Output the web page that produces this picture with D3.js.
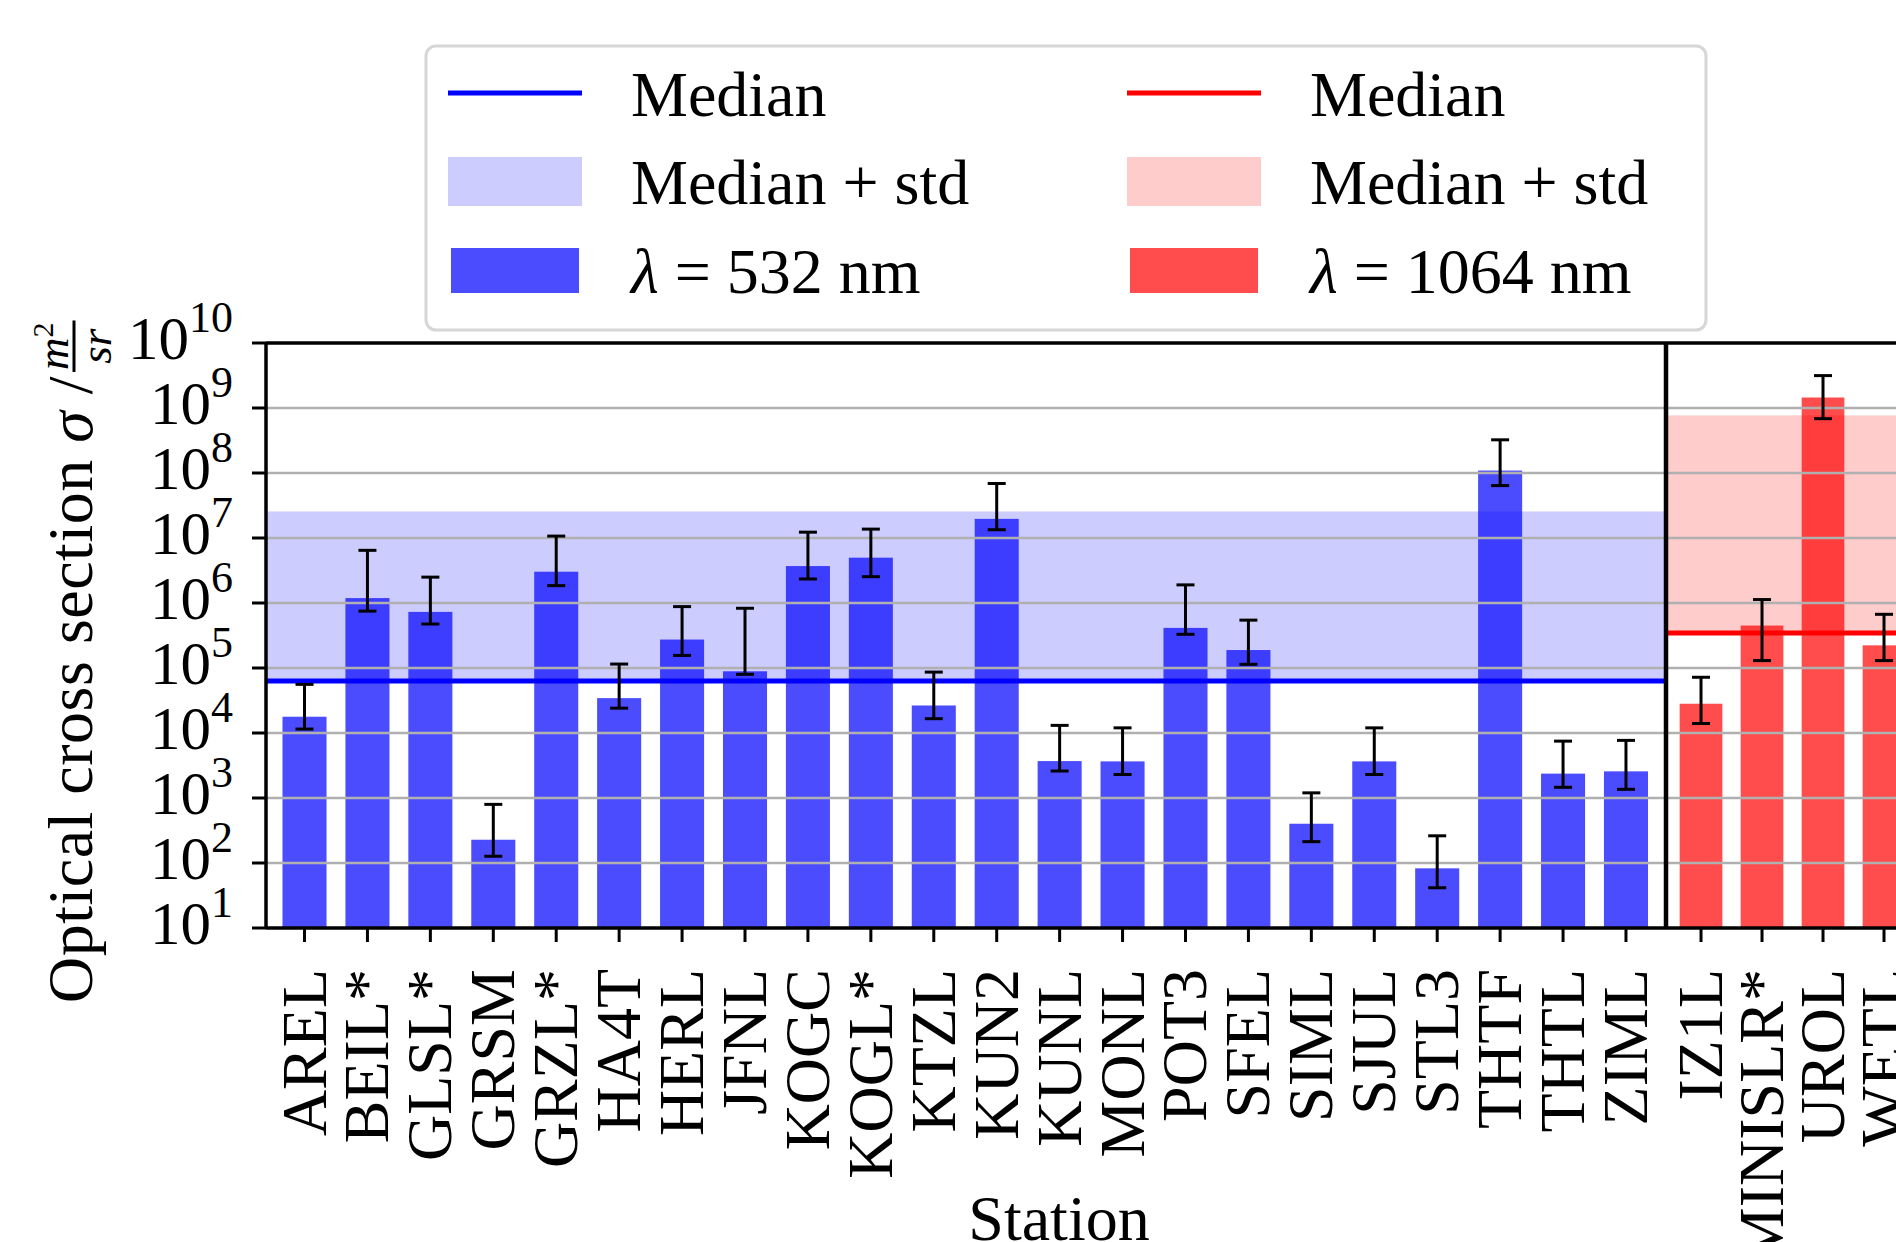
<!DOCTYPE html>
<html>
<head>
<meta charset="utf-8">
<script src="https://cdn.jsdelivr.net/npm/d3@7"></script>
<style>
  body { margin: 0; background: #fff; }
  svg { display: block; font-family: 'Liberation Serif', 'DejaVu Serif', serif; }
</style>
</head>
<body>
<div id="chart"></div>
<script>
// values, optical cross section in m^2/sr
const stations532 = ['AREL', 'BEIL*', 'GLSL*', 'GRSM', 'GRZL*', 'HA4T', 'HERL', 'JFNL', 'KOGC', 'KOGL*', 'KTZL',
  'KUN2', 'KUNL', 'MONL', 'POT3', 'SFEL', 'SIML', 'SJUL', 'STL3', 'THTF', 'THTL', 'ZIML']
const values532 = [1.78e4, 1.19e6, 7.3e5, 228, 3.03e6, 3.44e4, 2.74e5, 8.9e4, 3.7e6, 4.98e6, 2.65e4,
  1.97e7, 3.7e3, 3.66e3, 4.14e5, 1.89e5, 402, 3.66e3, 82.8, 1.09e8, 2.37e3, 2.57e3]
const errLow532 = [1.15e4, 7.5e5, 4.75e5, 127, 1.85e6, 2.41e4, 1.56e5, 8.0e4, 2.34e6, 2.54e6, 1.66e4,
  1.34e7, 2.6e3, 2.3e3, 3.3e5, 1.14e5, 213, 2.3e3, 41.6, 6.4e7, 1.46e3, 1.36e3]
const errHigh532 = [5.6e4, 6.46e6, 2.5e6, 798, 1.07e7, 1.15e5, 8.8e5, 8.3e5, 1.23e7, 1.37e7, 8.65e4,
  6.9e7, 1.31e4, 1.2e4, 1.9e6, 5.45e5, 1.2e3, 1.2e4, 262, 3.24e8, 7.5e3, 7.7e3]

const stations1064 = ['IZ1L', 'MINISLR*', 'UROL', 'WETL']
const values1064 = [2.82e4, 4.5e5, 1.45e9, 2.23e5]
const errLow1064 = [1.4e4, 1.3e5, 6.85e8, 1.3e5]
const errHigh1064 = [7.2e4, 1.13e6, 3.15e9, 6.7e5]

const median532 = 6.3e4
const medianStd532 = 2.56e7
const median1064 = 3.46e5
const medianStd1064 = 7.7e8

const yTickExponents = [1, 2, 3, 4, 5, 6, 7, 8, 9, 10]

const W = 1896
const H = 1242
const plotTop = 343
const plotBottom = 928
const plotLeft = 266
const split = 1666
const fs = 64

const svg = d3.select('#chart')
  .append('svg')
  .attr('width', W)
  .attr('height', H)

const y = d3.scaleLog()
  .domain([1e1, 1e10])
  .range([plotBottom, plotTop])

const xBlue = d3.scaleLinear()
  .domain([-0.612, stations532.length - 1 + 0.636])
  .range([plotLeft, split])

const xRed = d3.scaleLinear()
  .domain([-0.574, 3.8])
  .range([split, split + 4.374 * 61])

const barW = 0.7

const blue = '#0000ff'
const red = '#ff0000'

const panels = [
  { x: xBlue, names: stations532, vals: values532, lo: errLow532, hi: errHigh532, med: median532, std: medianStd532, color: blue, x0: plotLeft, x1: split },
  { x: xRed, names: stations1064, vals: values1064, lo: errLow1064, hi: errHigh1064, med: median1064, std: medianStd1064, color: red, x0: split, x1: W + 10 }
]

const defs = svg.append('defs')
panels.forEach((p, i) => {
  defs.append('clipPath').attr('id', `clip${i}`)
    .append('rect')
    .attr('x', p.x0).attr('y', plotTop)
    .attr('width', p.x1 - p.x0).attr('height', plotBottom - plotTop)
})

panels.forEach((p, i) => {
  const g = svg.append('g').attr('clip-path', `url(#clip${i})`)
  const idx = d3.range(p.names.length)

  // median + std band
  g.append('rect')
    .attr('x', p.x0)
    .attr('y', y(p.std))
    .attr('width', p.x1 - p.x0)
    .attr('height', y(p.med) - y(p.std))
    .attr('fill', p.color)
    .attr('fill-opacity', 0.2)

  g.selectAll('.bar')
    .data(idx)
    .enter()
    .append('rect')
    .attr('class', 'bar')
    .attr('x', d => p.x(d - barW / 2))
    .attr('y', d => y(p.vals[d]))
    .attr('width', p.x(barW) - p.x(0))
    .attr('height', d => plotBottom - y(p.vals[d]))
    .attr('fill', p.color)
    .attr('fill-opacity', 0.7)

  g.selectAll('.grid')
    .data(yTickExponents.slice(1, -1))
    .enter()
    .append('line')
    .attr('x1', p.x0).attr('x2', p.x1)
    .attr('y1', d => y(10 ** d)).attr('y2', d => y(10 ** d))
    .attr('stroke', '#b0b0b0')
    .attr('stroke-width', 2.5)

  g.append('line')
    .attr('x1', p.x0).attr('x2', p.x1)
    .attr('y1', y(p.med)).attr('y2', y(p.med))
    .attr('stroke', p.color)
    .attr('stroke-width', 5)

  const err = g.selectAll('.err')
    .data(idx)
    .enter()
    .append('g')
    .attr('stroke', '#000')
    .attr('stroke-width', 3)
  err.append('line')
    .attr('x1', d => p.x(d)).attr('x2', d => p.x(d))
    .attr('y1', d => y(p.lo[d])).attr('y2', d => y(p.hi[d]))
  err.append('line')
    .attr('x1', d => p.x(d) - 9).attr('x2', d => p.x(d) + 9)
    .attr('y1', d => y(p.lo[d])).attr('y2', d => y(p.lo[d]))
  err.append('line')
    .attr('x1', d => p.x(d) - 9).attr('x2', d => p.x(d) + 9)
    .attr('y1', d => y(p.hi[d])).attr('y2', d => y(p.hi[d]))

  // x ticks + rotated labels
  svg.selectAll(`.xt${i}`)
    .data(idx)
    .enter()
    .append('line')
    .attr('x1', d => p.x(d)).attr('x2', d => p.x(d))
    .attr('y1', plotBottom).attr('y2', plotBottom + 14)
    .attr('stroke', '#000')
    .attr('stroke-width', 3)

  svg.selectAll(`.xl${i}`)
    .data(idx)
    .enter()
    .append('text')
    .attr('transform', d => `translate(${p.x(d) + 21},969) rotate(-90)`)
    .attr('text-anchor', 'end')
    .attr('font-size', fs)
    .text(d => p.names[d])
})

// spines
const spine = svg.append('g')
  .attr('stroke', '#000')
  .attr('stroke-width', 3.5)
  .attr('fill', 'none')
spine.append('line').attr('x1', plotLeft).attr('x2', W).attr('y1', plotTop).attr('y2', plotTop)
spine.append('line').attr('x1', plotLeft).attr('x2', W).attr('y1', plotBottom).attr('y2', plotBottom)
spine.append('line').attr('x1', plotLeft).attr('x2', plotLeft).attr('y1', plotTop).attr('y2', plotBottom)
spine.append('line').attr('x1', split).attr('x2', split).attr('y1', plotTop).attr('y2', plotBottom)
  .attr('stroke-width', 4.5)

// y ticks
svg.selectAll('.yt')
  .data(yTickExponents)
  .enter()
  .append('line')
  .attr('x1', plotLeft - 14).attr('x2', plotLeft)
  .attr('y1', d => y(10 ** d)).attr('y2', d => y(10 ** d))
  .attr('stroke', '#000')
  .attr('stroke-width', 3)

const yLab = svg.selectAll('.yl')
  .data(yTickExponents)
  .enter()
  .append('text')
  .attr('x', 233)
  .attr('y', d => y(10 ** d) + 16)
  .attr('text-anchor', 'end')
  .attr('font-size', 61)
yLab.append('tspan').text('10')
yLab.append('tspan')
  .attr('font-size', 44)
  .attr('dy', -27)
  .text(d => d)

// axis titles
svg.append('text')
  .attr('x', 1059)
  .attr('y', 1240)
  .attr('text-anchor', 'middle')
  .attr('font-size', fs)
  .text('Station')

const yTitle = svg.append('g')
  .attr('transform', 'translate(92,1003) rotate(-90)')
const yMain = yTitle.append('text')
  .attr('font-size', fs)
  .attr('letter-spacing', 0.5)
yMain.append('tspan').text('Optical cross section ')
yMain.append('tspan').attr('font-style', 'italic').text('σ')
yMain.append('tspan').text(' / ')
const L = yMain.node().getComputedTextLength() + 4
const num = yTitle.append('text')
  .attr('x', L + 2)
  .attr('y', -24)
  .attr('font-size', 45)
num.append('tspan').attr('font-style', 'italic').text('m')
num.append('tspan').attr('font-size', 30).attr('dy', -15).text('2')
const numW = num.node().getComputedTextLength()
yTitle.append('line')
  .attr('x1', L).attr('x2', L + numW + 4)
  .attr('y1', -18).attr('y2', -18)
  .attr('stroke', '#000')
  .attr('stroke-width', 3)
yTitle.append('text')
  .attr('x', L + (numW + 4) / 2)
  .attr('y', 19)
  .attr('text-anchor', 'middle')
  .attr('font-size', 45)
  .attr('font-style', 'italic')
  .text('sr')

// legend
const legend = svg.append('g')
legend.append('rect')
  .attr('x', 426).attr('y', 46)
  .attr('width', 1280).attr('height', 284)
  .attr('rx', 10)
  .attr('fill', '#fff')
  .attr('stroke', '#d6d6d6')
  .attr('stroke-width', 3)

const legendCols = [
  { color: blue, label: '532' },
  { color: red, label: '1064' }
]
legendCols.forEach((c, i) => {
  const g = legend.append('g').attr('transform', `translate(${i * 679},0)`)
  g.append('line')
    .attr('x1', 448).attr('x2', 582)
    .attr('y1', 93).attr('y2', 93)
    .attr('stroke', c.color)
    .attr('stroke-width', 5)
  g.append('rect')
    .attr('x', 448).attr('y', 157)
    .attr('width', 134).attr('height', 49)
    .attr('fill', c.color)
    .attr('fill-opacity', 0.2)
  g.append('rect')
    .attr('x', 451).attr('y', 248)
    .attr('width', 128).attr('height', 45)
    .attr('fill', c.color)
    .attr('fill-opacity', 0.7)
  g.append('text').attr('x', 631).attr('y', 116).attr('font-size', fs).text('Median')
  g.append('text').attr('x', 631).attr('y', 204).attr('font-size', fs).text('Median + std')
  const t = g.append('text').attr('x', 631).attr('y', 293).attr('font-size', fs)
  t.append('tspan').attr('font-style', 'italic').text('λ')
  t.append('tspan').text(` = ${c.label} nm`)
})
</script>
</body>
</html>
